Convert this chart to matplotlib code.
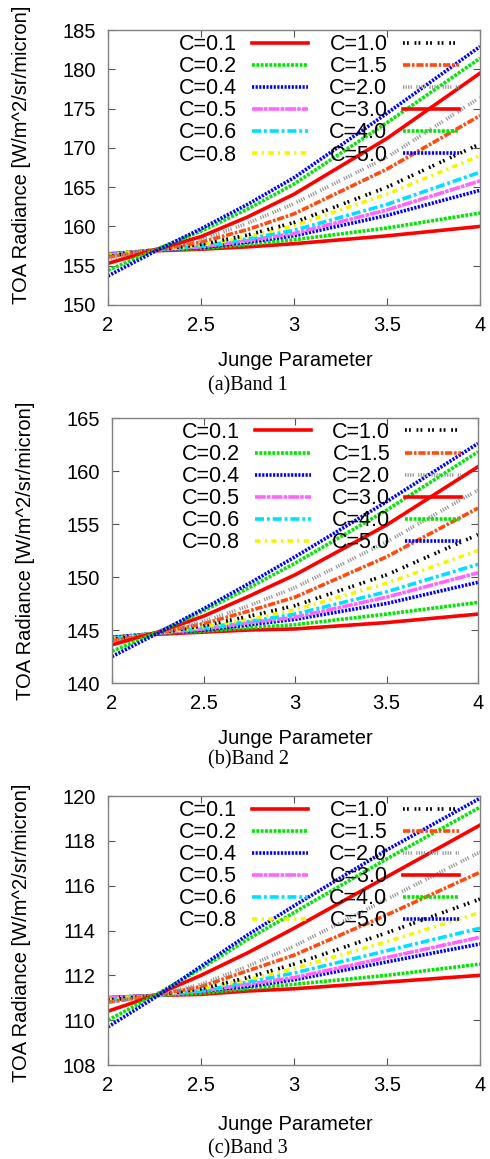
import numpy as np
import matplotlib
matplotlib.use('Agg')
import matplotlib.pyplot as plt

plt.rcParams['font.family'] = ['Liberation Sans', 'DejaVu Sans']

# Junge parameter sample points
junge = [2.0, 2.25, 2.5, 2.75, 3.0, 3.5, 4.0]
c_labels = ['C=0.1', 'C=0.2', 'C=0.4', 'C=0.5', 'C=0.6', 'C=0.8',
            'C=1.0', 'C=1.5', 'C=2.0', 'C=3.0', 'C=4.0', 'C=5.0']

band1 = [
    [156.5, 156.9, 157.1, 157.4, 157.8, 158.8, 160.0],
    [156.5, 157.0, 157.2, 157.7, 158.3, 159.8, 161.7],
    [156.4, 157.0, 157.3, 158.0, 158.8, 161.4, 164.6],
    [156.4, 157.0, 157.4, 158.2, 159.1, 162.1, 165.8],
    [156.3, 157.0, 157.5, 158.4, 159.5, 162.8, 166.9],
    [156.3, 157.0, 157.6, 158.7, 160.1, 164.1, 169.0],
    [156.2, 157.0, 157.7, 158.9, 160.5, 165.0, 170.5],
    [156.1, 157.0, 158.0, 159.6, 161.6, 167.3, 174.1],
    [155.9, 157.0, 158.3, 160.4, 162.9, 168.8, 176.4],
    [155.3, 157.0, 158.7, 161.2, 164.1, 171.2, 179.5],
    [154.4, 157.0, 159.4, 162.2, 165.4, 173.2, 181.4],
    [153.7, 156.8, 159.7, 162.8, 166.2, 174.4, 182.9],
]
band2 = [
    [144.3, 144.6, 144.8, 145.0, 145.1, 145.7, 146.5],
    [144.3, 144.7, 144.9, 145.2, 145.5, 146.5, 147.6],
    [144.3, 144.7, 145.0, 145.5, 146.0, 147.5, 149.5],
    [144.2, 144.7, 145.1, 145.7, 146.2, 148.1, 150.4],
    [144.2, 144.7, 145.2, 145.8, 146.5, 148.6, 151.2],
    [144.1, 144.7, 145.3, 146.0, 146.9, 149.4, 152.5],
    [144.1, 144.7, 145.4, 146.3, 147.3, 150.2, 154.0],
    [144.0, 144.7, 145.6, 146.8, 148.1, 151.9, 156.5],
    [143.9, 144.7, 145.8, 147.3, 149.0, 153.3, 158.2],
    [143.6, 144.8, 146.3, 148.2, 150.2, 154.9, 160.4],
    [143.0, 144.8, 146.8, 149.0, 151.3, 156.3, 161.8],
    [142.5, 144.7, 147.0, 149.4, 151.9, 157.1, 162.6],
]
band3 = [
    [111.0, 111.1, 111.15, 111.3, 111.4, 111.7, 112.0],
    [111.0, 111.1, 111.2, 111.4, 111.6, 112.0, 112.5],
    [111.0, 111.1, 111.3, 111.5, 111.8, 112.6, 113.4],
    [111.0, 111.1, 111.3, 111.6, 111.9, 112.8, 113.7],
    [110.9, 111.1, 111.3, 111.7, 112.1, 113.1, 114.1],
    [110.9, 111.1, 111.4, 111.8, 112.3, 113.5, 114.8],
    [110.9, 111.1, 111.4, 111.9, 112.5, 113.9, 115.4],
    [110.8, 111.1, 111.5, 112.2, 112.9, 114.7, 116.6],
    [110.8, 111.1, 111.6, 112.4, 113.3, 115.4, 117.5],
    [110.4, 111.1, 112.0, 113.0, 114.1, 116.4, 118.7],
    [110.0, 111.1, 112.3, 113.6, 114.8, 117.2, 119.5],
    [109.7, 111.0, 112.4, 113.8, 115.1, 117.6, 119.9],
]

colors = ['#ff0000', '#00e800', '#0000ff', '#ff66ff', '#00e0ff', '#f5f500',
          '#000000', '#ff4a10', '#999999', '#ff0000', '#00e800', '#0000ff']
styles = ['-', (0, (0.8, 0.4)), (0, (0.6, 0.4)), (0, (3, 0.3, 1, 0.3)),
          (0, (2.5, 0.8, 0.8, 0.8)), (0, (1.5, 1.2, 0.6, 1.2)),
          (0, (0.5, 0.6, 0.5, 1.6)), (0, (2, 0.5, 0.7, 0.5)),
          (0, (0.35, 0.35, 0.35, 0.35, 0.35, 0.35, 0.35, 1.2)),
          '-', (0, (0.8, 0.4)), (0, (0.6, 0.4))]

W, H = 490, 1159
fig = plt.figure(figsize=(W / 100, H / 100), dpi=100)

# panel boxes in pixels: left, top, right, bottom
panels = [
    dict(data=band1, box=(108, 30, 480, 305), ylim=(150, 185), ystep=5,
         ylab_x=22, ylab_y=155, xlab_y=360, cap_y=386, cap='(a)Band 1'),
    dict(data=band2, box=(112, 418, 478, 683), ylim=(140, 165), ystep=5,
         ylab_x=26, ylab_y=551, xlab_y=738, cap_y=760, cap='(b)Band 2'),
    dict(data=band3, box=(108, 796, 480, 1065), ylim=(108, 120), ystep=2,
         ylab_x=22, ylab_y=933, xlab_y=1125, cap_y=1149, cap='(c)Band 3'),
]

for p in panels:
    l, t, r, b = p['box']
    ax = fig.add_axes([l / W, 1 - b / H, (r - l) / W, (b - t) / H])
    for vals, lab, col, ls in zip(p['data'], c_labels, colors, styles):
        ax.plot(junge, vals, color=col, linestyle=ls, linewidth=2.6,
                label=lab)
    ax.set_xlim(2, 4)
    ax.set_ylim(*p['ylim'])
    ax.set_xticks([2, 2.5, 3, 3.5, 4])
    ax.set_xticklabels(['2', '2.5', '3', '3.5', '4'])
    ax.set_yticks(np.arange(p['ylim'][0], p['ylim'][1] + 0.1, p['ystep']))
    ax.tick_params(direction='in', length=5, width=0.8, color='#555555',
                   labelsize=14.5, top=True, right=True)
    ax.tick_params(axis='y', pad=9)
    ax.tick_params(axis='x', pad=8)
    for s in ax.spines.values():
        s.set_color('#808080')
        s.set_linewidth(1.0)
    ax.legend(ncol=2, loc='upper left', bbox_to_anchor=(0.19, 0.985),
              frameon=False, markerfirst=False, fontsize=15.5,
              handlelength=2.6, handletextpad=0.7, columnspacing=1.0,
              labelspacing=0.05, borderpad=0, borderaxespad=0)
    fig.text(p['ylab_x'] / W, 1 - p['ylab_y'] / H,
             'TOA Radiance [W/m^2/sr/micron]', rotation=90,
             ha='center', va='center', fontsize=14.5)
    fig.text(295 / W, 1 - p['xlab_y'] / H, 'Junge Parameter',
             ha='center', va='center', fontsize=14.5)
    fig.text(248 / W, 1 - p['cap_y'] / H, p['cap'], ha='center', va='center',
             fontsize=14.5, family='Liberation Serif')

fig.savefig('out.png', dpi=100)
